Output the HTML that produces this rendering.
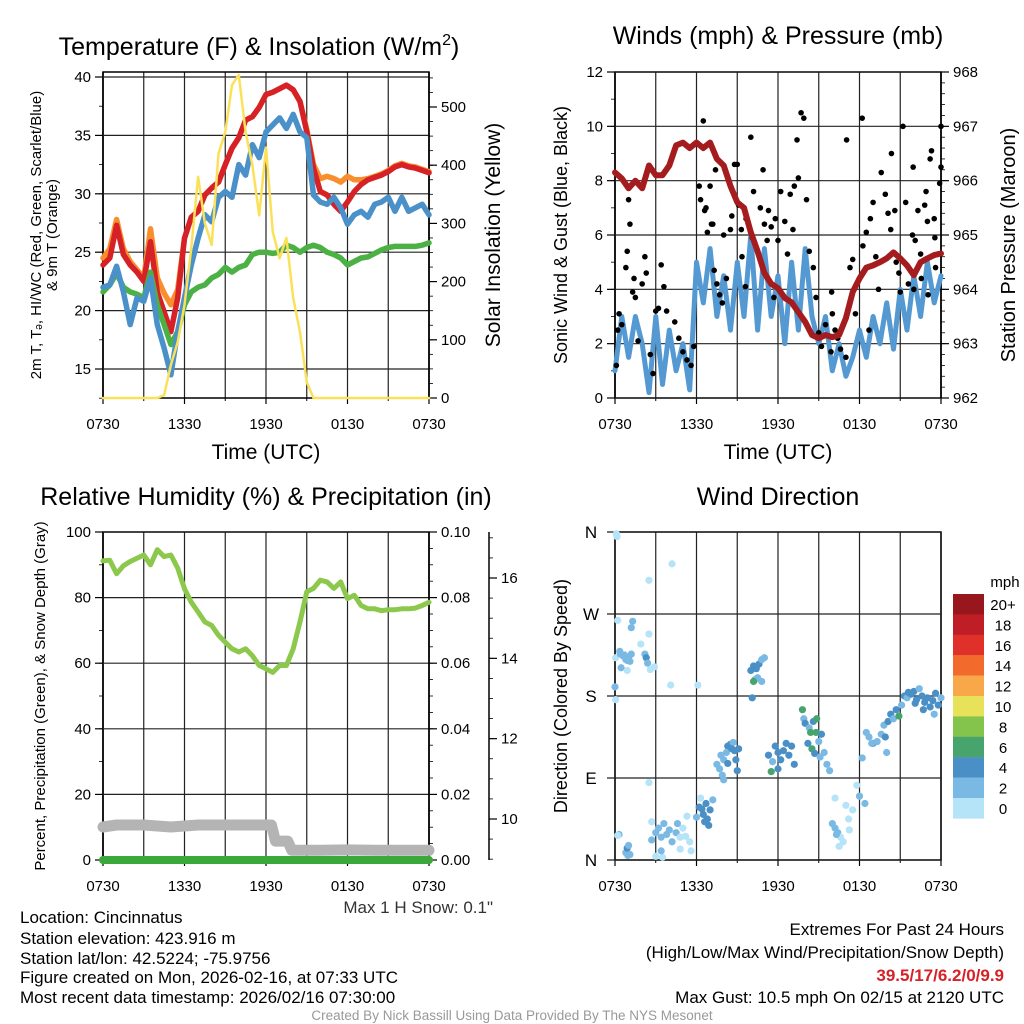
<!DOCTYPE html>
<html><head><meta charset="utf-8"><style>
html,body{margin:0;padding:0;background:#fff;}
svg{display:block;font-family:"Liberation Sans",Arial,sans-serif;}
</style></head><body>
<svg id="c" width="1024" height="1024" viewBox="0 0 1024 1024" xmlns="http://www.w3.org/2000/svg"></svg>
<script>
// ---------- DATA ----------
const hours = [];
for (let i = 0; i <= 48; i++) hours.push(i * 0.5);
const xTickHours = [0, 6, 12, 18, 24];
const xTickLabels = ["0730", "1330", "1930", "0130", "0730"];

const tempRed = [23.9,24.5,27.3,24.8,23.9,23.3,22.5,25.9,21.6,19.9,18.2,21.1,26.2,28,28.5,29.9,30.5,31,32.5,33.9,34.8,36.3,36.6,37.4,38.5,38.7,39,39.3,38.9,37.9,35.3,32.2,30.2,29.9,29.1,28.5,29.3,30.2,30.8,31.2,31.4,31.6,31.9,32.3,32.5,32.3,32.2,32,31.8];
const tempOrange = [24.5,25.3,27.8,25.3,24.2,23.5,22.8,27,22.8,21.5,20.5,21.8,26.2,28,28.5,29.9,30.5,31,32.5,33.9,34.8,36.3,36.6,37.4,38.5,38.7,39,39.3,38.9,37.9,35.5,32.5,31.3,31.5,31.3,31,31.5,31.2,31.2,31.3,31.5,31.7,32,32.4,32.6,32.4,32.3,32.1,31.9];
const tempBlue = [22,22.2,23.8,21.6,18.8,21.1,20.8,22.8,18.8,16.8,14.5,18.2,21.1,23.9,26.2,28.2,27.6,29.7,30.2,29.7,32.5,31.6,34.2,33.1,35.3,35.9,36.5,35.6,36.8,35.3,34.8,29.9,29.3,29.1,29.7,28.8,27.4,28.2,28.5,28,29.1,29.3,29.7,28.5,29.7,28.5,28.8,29.1,28.2];
const tempGreen = [21.6,22.2,23.2,22,21.6,21.4,21.1,23.3,20.5,18.8,17.1,18.2,20.5,21.6,22,22.2,22.8,23.1,23.7,23.3,23.7,23.9,24.8,25,25,24.9,25,25.6,25.4,25,25.4,25.6,25.4,25,24.8,24.5,23.9,24.2,24.5,24.6,24.9,25.2,25.4,25.5,25.5,25.5,25.5,25.6,25.8];
const insolation = [0,0,0,0,0,0,0,0,0,5,57,96,160,258,380,300,263,420,457,538,555,457,400,314,430,285,240,275,172,113,27,0,0,0,0,0,0,0,0,0,0,0,0,0,0,0,0,0,0];

const windSpeed = [1,3,1.5,3,2,0.2,3,0.5,2.5,1,2,0.3,5,3.5,5.5,3,4.5,2.5,5,3,6,2.5,5.5,3,4.5,2,5,2.5,5.5,3,2,3,1,2,0.8,1.5,2.5,1.5,3,2,3.5,1.8,4,2.5,4.5,3,5,3.5,4.5];
const pressure = [966.15,966.04,965.86,966,965.86,966.28,966.1,966.1,966.28,966.65,966.7,966.6,966.7,966.6,966.7,966.4,966.28,965.9,965.6,965.5,965.05,964.7,964.3,964.1,964.02,963.84,963.76,963.58,963.4,963.16,963.1,963.16,963.12,963.16,963.47,963.95,964.2,964.4,964.44,964.5,964.57,964.68,964.57,964.44,964.26,964.5,964.57,964.63,964.66];
const gustHours = [0.1,0.2,0.3,0.5,0.8,0.9,1.0,1.1,1.3,1.4,1.5,1.7,2.0,2.2,2.3,2.6,2.8,3.0,3.2,3.4,3.6,3.8,4.4,4.7,5,5.3,5.6,5.8,6.2,6.5,6.3,6.6,6.7,6.8,7.0,7.1,7.2,7.3,7.5,7.7,7.9,7.4,8.0,8.2,8.5,8.6,8.8,9.0,9.1,9.3,9.35,9.6,9.65,10.0,10.2,10.1,10.5,10.7,10.9,11.0,11.2,11.3,11.5,11.7,11.8,12.0,12.2,12.5,12.7,12.9,13.1,13.2,13.4,13.5,13.7,13.9,14.1,14.3,14.6,14.8,15.0,15.2,15.5,15.9,16.0,16.4,17.05,18.2,15.95,16.6,17.3,17.5,17.7,18.0,18.25,18.5,18.8,19.0,19.2,19.6,19.9,20.1,20.3,20.35,20.6,20.9,21.2,21.4,21.6,21.9,21.95,22.1,22.3,22.5,22.55,22.9,23.0,23.2,23.3,23.5,23.6,23.8,23.9,24.0,24.0,23.55,22.8,19.4,18.7,20.7,17.0,16.2,21.0,22.0,23.05];
const gustSpeed = [1.2,2.5,3.1,2.7,4.8,5.4,7.3,6.4,3.9,4.4,3.7,2.1,4.2,5.2,4.6,1.6,0.9,3.2,3.3,4.9,4.1,3.2,2.8,2.2,1.7,1.4,1.2,1.9,7.8,10.2,7.3,6.9,7.0,6.1,7.8,6.4,6.4,4.7,4.2,3.8,3.5,8.4,6.0,4.4,6.2,6.7,8.6,8.6,7.1,6.2,5.2,4.1,6.6,9.6,7.6,5.9,5.4,7.0,8.4,6.4,5.8,6.9,6.3,3.7,6.6,5.8,7.6,6.5,5.3,7.5,6.2,7.8,9.5,8.1,10.5,10.3,7.3,5.4,4.8,3.7,2.4,1.9,2.7,1.7,3.1,2.2,9.5,10.3,3.9,1.8,4.8,5.1,3.1,4.4,5.6,6.1,6.6,7.2,5.2,8.3,7.5,6.8,6.2,9.0,6.9,4.6,10.0,7.2,4.2,6.0,8.5,5.8,6.9,5.3,4.4,7.6,6.5,8.8,9.1,6.6,4.8,5.3,7.9,10.0,8.5,5.9,7.1,4.0,2.5,5.0,1.5,2.5,3.9,4.0,3.8];

const rh = [91.2,91.4,87.3,89.7,91,92,93,90,94.6,92.5,93,89,82.7,78.6,75.6,72.6,71.5,68.5,66.4,64.4,63.4,64.4,62.3,59.3,58.3,57.2,59.3,59.3,64.4,72.6,81.8,82.8,85.3,84.8,82.8,84.8,79.7,80.7,77.6,76.6,76.6,76,76.3,76.3,76.6,76.6,76.8,77.6,78.6];
const precip = [0,0,0,0,0,0,0,0,0,0,0,0,0,0,0,0,0,0,0,0,0,0,0,0,0,0,0,0,0,0,0,0,0,0,0,0,0,0,0,0,0,0,0,0,0,0,0,0,0];
const snowHours = [0,1,3,5,7,9,11,12.4,12.7,13.6,13.9,16,18,20,22,24];
const snowDepth = [9.8,9.85,9.85,9.8,9.85,9.85,9.85,9.85,9.45,9.45,9.22,9.22,9.23,9.22,9.22,9.22];

const dirHours = [0.0,0.05,0.05,0.1,0.15,0.2,0.4,0.45,0.35,0.6,0.7,0.8,0.9,1.0,1.1,1.2,0.9,2.2,2.3,2.4,2.6,2.9,1.9,2.5,1.2,1.3,2.5,4.2,4.1,6.1,0.3,0.8,0.9,1.0,1.1,0.95,0.2,2.5,3.5,2.7,2.7,3.0,3.2,3.4,3.6,3.8,4.0,4.2,4.5,4.8,5.0,5.2,5.5,5.3,4.6,3.4,3.0,4.8,5.6,6.0,6.2,6.4,6.5,6.7,6.8,6.9,6.6,7.0,7.2,6.3,7.5,7.7,7.8,8.0,8.3,8.5,8.7,8.8,8.9,9.1,9.0,8.2,8.6,8.0,7.9,8.3,10.0,10.2,10.4,10.6,10.8,11.0,10.3,10.5,10.8,10.2,10.1,11.3,11.6,11.8,12.0,12.2,12.4,12.6,12.8,13.0,13.2,11.5,12.0,13.8,13.9,14.0,14.3,14.4,14.6,14.8,14.85,15.0,15.2,14.5,14.7,15.4,15.6,15.8,14.2,15.1,16.0,16.2,16.4,16.6,16.8,16.3,17.0,17.2,17.5,18.0,17.8,18.4,16.2,16.5,17.25,18.5,18.7,18.2,19.0,19.3,19.6,19.8,20.1,20.3,20.5,20.7,20.9,21.1,19.9,20.0,18.9,21.3,21.5,21.8,22.0,22.2,22.4,22.6,22.8,23.0,23.2,23.4,23.6,23.8,24.0,22.7,23.5,21.6,22.1];
const dirDeg = [190,176,222,358,355,263,226,211,229,224,225,220,219,222,218,226,208,226,222,216,209,212,237,248,255,262,307,325,192,192,28,8,13,16,6,5,27,85,3,42,22,30,35,25,40,28,33,20,30,25,35,26,20,48,40,10,4,12,10,47,58,56,50,62,45,38,42,55,66,68,105,100,115,110,125,127,129,120,110,122,98,118,122,88,93,106,208,213,210,215,220,222,198,200,196,196,178,115,108,125,118,110,120,128,115,125,105,97,100,165,155,150,145,140,152,140,155,130,138,122,117,118,105,98,128,113,40,35,30,25,20,28,60,45,55,70,82,62,68,15,33,140,135,112,128,130,138,148,152,160,155,165,158,170,135,118,128,180,178,182,185,176,188,180,173,178,168,175,183,170,178,165,160,184,172];
const dirSpeed = [3,1,1,1,1,1,3,3,3,3,3,3,3,3,3,3,1,3,5,3,1,1,1,1,3,3,1,1,1,1,3,3,5,3,3,3,1,1,1,1,3,3,3,3,3,3,3,3,3,1,1,1,1,1,3,3,1,1,1,3,5,5,5,5,5,5,5,5,3,1,3,3,3,3,5,5,3,5,5,5,5,3,5,3,3,5,5,5,5,5,3,3,3,3,3,7,5,5,3,5,5,5,5,5,5,5,5,7,5,7,3,5,3,7,5,7,7,3,5,7,5,3,3,3,5,3,3,3,3,1,1,3,1,1,1,3,1,3,1,1,1,3,3,3,5,3,3,3,5,5,3,5,7,3,5,3,3,5,3,5,5,5,3,5,5,5,5,5,5,5,3,5,3,5,5,3,3];
const cbLabels = ["20+","18","16","14","12","10","8","6","4","2","0"];
const cbColors = ["#98171c","#c01e27","#df3129","#f26a2c","#f8a848","#e8e15a","#84c44c","#47a46d","#4a8fc6","#7bb9e5","#b5e3f7"];

// ---------- HELPERS ----------
const NS = "http://www.w3.org/2000/svg";
const svg = document.getElementById("c");
function mk(tag, attrs, parent) {
  const e = document.createElementNS(NS, tag);
  for (const k in attrs) e.setAttribute(k, attrs[k]);
  (parent || svg).appendChild(e);
  return e;
}
function txt(s, x, y, size, anchor, parent, extra) {
  const t = mk("text", Object.assign({x: x, y: y, "font-size": size, "text-anchor": anchor || "middle", fill: "#000"}, extra || {}), parent);
  t.textContent = s;
  return t;
}
function scale(d0, d1, r0, r1) { return v => r0 + (v - d0) * (r1 - r0) / (d1 - d0); }
function polyline(xs, ys, fx, fy, color, w, parent) {
  let d = "";
  for (let i = 0; i < xs.length; i++) d += (i ? "L" : "M") + fx(xs[i]).toFixed(1) + "," + fy(ys[i]).toFixed(1);
  return mk("path", {d: d, fill: "none", stroke: color, "stroke-width": w, "stroke-linejoin": "round", "stroke-linecap": "round"}, parent);
}
function frame(P, g) {
  for (let h = 0; h <= 24; h += 3) {
    const x = P.fx(h);
    const l = mk("line", {x1: x, x2: x, y1: P.y0, y2: P.y1, stroke: "#222", "stroke-width": 1.2}, g);
    
    
  }
  for (let i = 0; i < xTickHours.length; i++) {
    const x = P.fx(xTickHours[i]);
    mk("line", {x1: x, x2: x, y1: P.y1, y2: P.y1 + 6, stroke: "#000", "stroke-width": 1.2}, g);
    const t = txt(xTickLabels[i], x, P.y1 + 31, 15, "middle", g);
    
    
  }
  for (let h = 0; h <= 24; h += 3) {
    const x = P.fx(h);
    mk("line", {x1: x, x2: x, y1: P.y1, y2: P.y1 + 3, stroke: "#000", "stroke-width": 1}, g);
  }
  mk("rect", {x: P.x0, y: P.y0, width: P.x1 - P.x0, height: P.y1 - P.y0, fill: "none", stroke: "#000", "stroke-width": 1.5}, g);
}
function yAxis(g, x, y0, y1, ticks, fy, minors, side, fmt, size, grid, P) {
  const dir = side === "left" ? -1 : 1;
  mk("line", {x1: x, x2: x, y1: y0, y2: y1, stroke: "#000", "stroke-width": 1.5}, g);
  minors.forEach(v => mk("line", {x1: x, x2: x + dir * 4, y1: fy(v), y2: fy(v), stroke: "#000", "stroke-width": 0.8}, g));
  ticks.forEach(v => {
    const y = fy(v);
    mk("line", {x1: x, x2: x + dir * 8, y1: y, y2: y, stroke: "#000", "stroke-width": 1.2}, g);
    if (grid) mk("line", {x1: P.x0, x2: P.x1, y1: y, y2: y, stroke: "#222", "stroke-width": 1.2}, g);
    const t = txt(fmt(v), x + dir * 12, y + 5, size, side === "left" ? "end" : "start", g);
    
    
  });
}
function range(a, b, s) { const r = []; for (let v = a; v <= b + 1e-9; v += s) r.push(+v.toFixed(4)); return r; }
function group(name) {
  const g = mk("g", {});
  
  
  return g;
}
function label(g, s, x, y, size, name, rot, extra) {
  const t = txt(s, x, y, size, "middle", g, Object.assign(rot ? {transform: "rotate(-90 " + x + " " + y + ")"} : {}, extra || {}));
  
  
  return t;
}

// ---------- PANEL 1: Temperature ----------
(function () {
  const g = group("temperature-panel");
  const P = {x0: 103, x1: 429, y0: 72, y1: 398};
  P.fx = scale(0, 24, P.x0, P.x1);
  const fy = scale(15, 40, 369, 77);
  const fyR = scale(0, 500, 398, 107);
  frame(P, g);
  yAxis(g, P.x0, P.y0, P.y1, range(15, 40, 5), fy, range(12.5, 40, 2.5), "left", v => v, 15, true, P);
  yAxis(g, P.x1, P.y0, P.y1, range(0, 500, 100), fyR, range(0, 550, 25), "right", v => v, 15, false, P);
  const s1 = polyline(hours, tempOrange, P.fx, fy, "#f98e2d", 5.5, g);  
  const s2 = polyline(hours, tempRed, P.fx, fy, "#d62127", 5.5, g);  
  const s3 = polyline(hours, tempGreen, P.fx, fy, "#4cb144", 5.5, g);  
  const s4 = polyline(hours, tempBlue, P.fx, fy, "#4a90c9", 5.5, g);  
  const s5 = polyline(hours, insolation, P.fx, fyR, "#fbe15a", 2.5, g);  
  const t = txt("Temperature (F) & Insolation (W/m", 259, 55, 25, "middle", g);
  const sup = mk("tspan", {dy: -10, "font-size": 16}, t); sup.textContent = "2";
  const cl = mk("tspan", {dy: 10}, t); cl.textContent = ")";
   
  label(g, "Time (UTC)", 266, 459, 21, "x-axis-title");
  label(g, "2m T, T\u2094, HI/WC (Red, Green, Scarlet/Blue)", 41, 235, 15, "y-axis-title-left", true);
  label(g, "& 9m T (Orange)", 57, 235, 15, "y-axis-title-left-2", true);
  label(g, "Solar Insolation (Yellow)", 500, 235, 21, "y-axis-title-right", true);
})();

// ---------- PANEL 2: Winds ----------
(function () {
  const g = group("winds-panel");
  const P = {x0: 615, x1: 941, y0: 72, y1: 398};
  P.fx = scale(0, 24, P.x0, P.x1);
  const fy = scale(0, 12, 398, 72);
  const fyR = scale(962, 968, 398, 72);
  frame(P, g);
  yAxis(g, P.x0, P.y0, P.y1, range(0, 12, 2), fy, range(0, 12, 1), "left", v => v, 15, true, P);
  yAxis(g, P.x1, P.y0, P.y1, range(962, 968, 1), fyR, range(962, 968, 0.2), "right", v => v, 15, false, P);
  const w = polyline(hours, windSpeed, P.fx, fy, "#5599d2", 5, g);  
  for (let i = 0; i < gustHours.length; i++) {
    const c = mk("circle", {cx: P.fx(gustHours[i]), cy: fy(gustSpeed[i]), r: 2.8, fill: "#000"}, g);
    
    
  }
  const p = polyline(hours, pressure, P.fx, fyR, "#a51c1f", 6, g);  
  label(g, "Winds (mph) & Pressure (mb)", 778, 44, 25, "winds-title");
  label(g, "Time (UTC)", 778, 459, 21, "x-axis-title");
  label(g, "Sonic Wind & Gust (Blue, Black)", 567, 235, 18, "y-axis-title-left", true);
  label(g, "Station Pressure (Maroon)", 1015, 245, 20, "y-axis-title-right", true);
})();

// ---------- PANEL 3: RH ----------
(function () {
  const g = group("humidity-panel");
  const P = {x0: 103, x1: 429, y0: 532, y1: 860};
  P.fx = scale(0, 24, P.x0, P.x1);
  const fy = scale(0, 100, 860, 532);
  const fyR = scale(0, 0.1, 860, 532);
  const fyS = scale(10, 16, 819, 578);
  frame(P, g);
  yAxis(g, P.x0, P.y0, P.y1, range(0, 100, 20), fy, range(0, 100, 10), "left", v => v, 15, true, P);
  yAxis(g, P.x1, P.y0, P.y1, range(0, 0.1, 0.02), fyR, range(0, 0.1, 0.005), "right", v => v.toFixed(2), 15, false, P);
  yAxis(g, 489, 532, 860, range(10, 16, 2), fyS, range(9, 17, 0.5), "right", v => v, 15, false, P);
  const s = polyline(snowHours, snowDepth, P.fx, fyS, "#b4b4b4", 11, g);  
  const pr = polyline(hours, precip, P.fx, fyR, "#3aa83a", 8, g);  
  const r = polyline(hours, rh, P.fx, fy, "#8cc84c", 5, g);  
  label(g, "Relative Humidity (%) & Precipitation (in)", 266, 505, 25, "humidity-title");
  label(g, "Percent, Precipitation (Green), & Snow Depth (Gray)", 45, 696, 15, "y-axis-title-left", true);
  const m = txt("Max 1 H Snow: 0.1\"", 493, 913, 17, "end", g, {fill: "#333"});
   
})();

// ---------- PANEL 4: Wind direction ----------
(function () {
  const g = group("wind-direction-panel");
  const P = {x0: 615, x1: 941, y0: 532, y1: 860};
  P.fx = scale(0, 24, P.x0, P.x1);
  const fy = scale(0, 360, 860, 532);
  frame(P, g);
  const dl = ["N", "E", "S", "W", "N"];
  [0, 90, 180, 270, 360].forEach((v, i) => {
    const y = fy(v);
    mk("line", {x1: P.x0 - 8, x2: P.x1, y1: y, y2: y, stroke: "#222", "stroke-width": 1.2}, g);
    const t = txt(dl[i], 591, y + 6, 17, "middle", g);
     
  });
  function col(s) { const b = Math.min(10, Math.floor(s / 2)); return cbColors[10 - b]; }
  for (let i = 0; i < dirHours.length; i++) {
    const c = mk("circle", {cx: P.fx(dirHours[i]), cy: fy(dirDeg[i]), r: 3.6, fill: col(dirSpeed[i])}, g);
    
    
  }
  label(g, "Wind Direction", 778, 505, 25, "wind-direction-title");
  label(g, "Direction (Colored By Speed)", 567, 696, 18, "y-axis-title-left", true);
  const cb = group("speed-colorbar");
  for (let i = 0; i < cbColors.length; i++) {
    const r = mk("rect", {x: 953, y: 594 + i * 20.4, width: 31, height: 20.6, fill: cbColors[i]}, cb);
     
    const t = txt(cbLabels[i], 1003, 594 + i * 20.4 + 16, 15, "middle", cb);
     
  }
  const u = txt("mph", 1005, 587, 15, "middle", cb);
   
})();

// ---------- FOOTER TEXT ----------
(function () {
  const g = group("station-info");
  const lines = ["Location: Cincinnatus", "Station elevation: 423.916 m", "Station lat/lon: 42.5224; -75.9756", "Figure created on Mon, 2026-02-16, at 07:33 UTC", "Most recent data timestamp: 2026/02/16 07:30:00"];
  const ys = [923, 944, 964, 983, 1003];
  lines.forEach((s, i) => {
    const t = txt(s, 20, ys[i], 17, "start", g);
     
  });
  const g2 = group("extremes-summary");
  const a = txt("Extremes For Past 24 Hours", 1004, 935, 17, "end", g2);  
  const b = txt("(High/Low/Max Wind/Precipitation/Snow Depth)", 1004, 958, 17, "end", g2);  
  const c = txt("39.5/17/6.2/0/9.9", 1004, 981, 17, "end", g2, {fill: "#d62127", "font-weight": "bold"});  
  const d = txt("Max Gust: 10.5 mph On 02/15 at 2120 UTC", 1004, 1003, 17, "end", g2);  
  const f = txt("Created By Nick Bassill Using Data Provided By The NYS Mesonet", 512, 1020, 13.5, "middle", svg, {fill: "#999"});
   
})();
</script>
</body></html>
